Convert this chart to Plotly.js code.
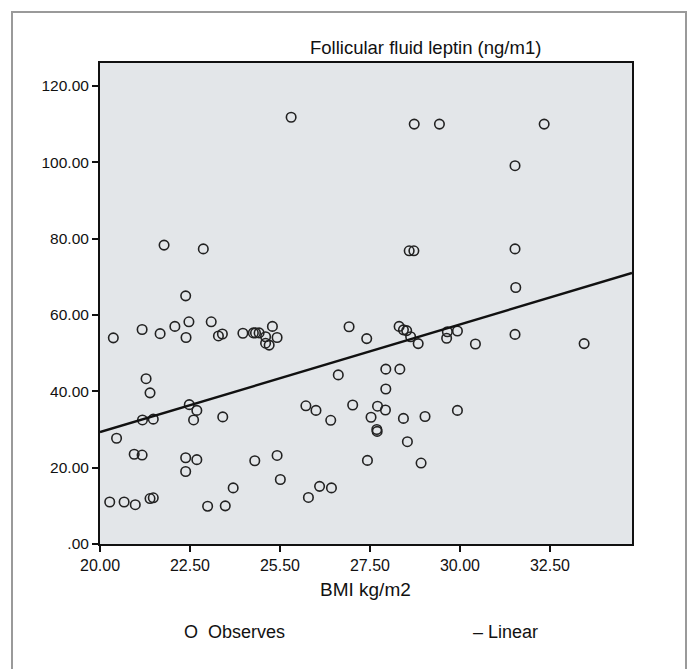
<!DOCTYPE html>
<html>
<head>
<meta charset="utf-8">
<script src="https://cdn.plot.ly/plotly-3.0.1.min.js"></script>
<style>html,body{margin:0;padding:0;background:#fff;}#chart{width:696px;height:669px;}</style>
</head>
<body>
<div id="chart"></div>
<script>
// BMI (kg/m2) of each observation
var bmi = [
  25.31, 28.73, 29.43, 32.34, 31.53,
  21.78, 22.87, 22.38, 20.37, 21.17, 21.67, 22.08, 22.47, 22.39, 23.09,
  23.29, 23.40, 23.97, 24.26, 24.32, 24.42, 24.79, 24.60, 24.60, 24.70,
  24.92, 26.92, 27.41, 21.28, 21.39, 26.62, 27.94, 27.94, 22.48, 22.69,
  22.60, 21.18, 21.48, 23.41, 25.72, 26.00, 26.41, 27.02, 27.71, 27.93,
  27.53, 27.69,
  28.59, 28.72, 31.53, 31.55, 28.31, 28.43, 28.52, 28.63, 28.84, 29.65,
  29.63, 29.93, 30.43, 31.53, 33.45, 28.33, 28.43, 29.03, 29.93,
  20.46, 20.95, 21.17, 22.38, 22.69, 22.38, 24.30, 24.92, 25.01, 23.70,
  20.27, 20.67, 20.98, 21.39, 21.48, 22.99, 23.48, 25.79, 26.10, 26.43,
  27.43, 27.70, 28.54, 28.92
];
// Follicular fluid leptin (ng/ml) of each observation
var leptin = [
  111.8, 110.0, 110.0, 110.0, 99.1,
  78.3, 77.3, 65.0, 54.0, 56.2, 55.1, 57.0, 58.2, 54.1, 58.2,
  54.5, 55.0, 55.2, 55.3, 55.3, 55.3, 57.0, 54.3, 52.6, 52.1,
  54.1, 56.9, 53.8, 43.3, 39.6, 44.3, 45.8, 40.6, 36.5, 35.0,
  32.5, 32.5, 32.7, 33.3, 36.2, 35.0, 32.4, 36.4, 36.1, 35.1,
  33.2, 30.0,
  76.8, 76.8, 77.3, 67.2, 57.0, 56.1, 55.9, 54.3, 52.5, 55.6,
  53.9, 55.8, 52.4, 54.9, 52.5, 45.8, 32.9, 33.4, 35.0,
  27.7, 23.5, 23.3, 22.6, 22.1, 19.0, 21.8, 23.2, 16.9, 14.7,
  11.0, 11.0, 10.3, 11.9, 12.1, 9.9, 10.0, 12.2, 15.1, 14.7,
  21.9, 29.5, 26.8, 21.2
];
// Fitted linear line end points
var fitX = [20.0, 34.78];
var fitY = [29.3, 71.0];

var xTickVals = [20, 22.5, 25, 27.5, 30, 32.5];
var xTickText = ["20.00", "22.50", "25.50", "27.50", "30.00", "32.50"];
var yTickVals = [0, 20, 40, 60, 80, 100, 120];
var yTickText = [".00", "20.00", "40.00", "60.00", "80.00", "100.00", "120.00"];

var chartTitle = "Follicular fluid leptin (ng/m1)";
var xTitle = "BMI kg/m2";
var legendObs = "O  Observes";
var legendLin = "\u2013 Linear";

var FONT = "Liberation Sans, Arial, sans-serif";

var traces = [
  {
    x: bmi, y: leptin, type: "scatter", mode: "markers", name: "Observes",
    marker: {symbol: "circle-open", size: 9.5, color: "#222", line: {width: 1.6, color: "#222"}},
    hoverinfo: "x+y", cliponaxis: false
  },
  {
    x: fitX, y: fitY, type: "scatter", mode: "lines", name: "Linear",
    line: {color: "#111", width: 2.5}
  }
];

var P = function (px) { return (px - 100) / 532; };
var Q = function (py) { return (544 - py) / 481; };

var layout = {
  width: 696, height: 669,
  margin: {l: 100, r: 64, t: 63, b: 125},
  paper_bgcolor: "#ffffff",
  plot_bgcolor: "#e3e6e9",
  showlegend: false,
  font: {family: FONT, color: "#111", size: 15},
  xaxis: {
    range: [20, 34.78], tickvals: xTickVals, ticktext: xTickText,
    ticks: "outside", ticklen: 6, tickwidth: 2, tickcolor: "#111",
    showgrid: false, zeroline: false,
    showline: true, linecolor: "#111", linewidth: 2, mirror: true,
    tickfont: {family: FONT, size: 16, color: "#111"}
  },
  yaxis: {
    range: [0, 126], tickvals: yTickVals, ticktext: yTickText,
    ticks: "outside", ticklen: 6, tickwidth: 2, tickcolor: "#111",
    showgrid: false, zeroline: false,
    showline: true, linecolor: "#111", linewidth: 2, mirror: true,
    tickfont: {family: FONT, size: 15.5, color: "#111"}
  },
  shapes: [
    {type: "rect", xref: "paper", yref: "paper", x0: P(12), x1: P(686), y0: Q(700), y1: Q(12),
     line: {color: "#9a9a9a", width: 2}, fillcolor: "rgba(0,0,0,0)", layer: "below"}
  ],
  annotations: [
    {text: chartTitle, xref: "paper", yref: "paper", x: P(425), y: Q(48), showarrow: false,
     xanchor: "center", yanchor: "middle", font: {family: FONT, size: 18.5, color: "#111"}},
    {text: xTitle, xref: "paper", yref: "paper", x: P(365), y: Q(589), showarrow: false,
     xanchor: "center", yanchor: "middle", font: {family: FONT, size: 19, color: "#111"}},
    {text: legendObs, xref: "paper", yref: "paper", x: P(182), y: Q(632), showarrow: false,
     xanchor: "left", yanchor: "middle", font: {family: FONT, size: 18, color: "#111"}},
    {text: legendLin, xref: "paper", yref: "paper", x: P(471), y: Q(632), showarrow: false,
     xanchor: "left", yanchor: "middle", font: {family: FONT, size: 18, color: "#111"}}
  ]
};

Plotly.newPlot("chart", traces, layout, {displayModeBar: false, staticPlot: true});
</script>
</body>
</html>
